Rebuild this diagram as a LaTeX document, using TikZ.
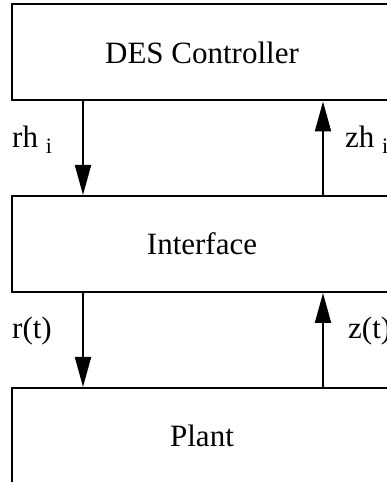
\documentclass[tikz,border=0pt]{standalone}
\usepackage{fontspec}
\setmainfont{Liberation Serif}
\usetikzlibrary{arrows.meta}
\begin{document}
\begin{tikzpicture}[x=1pt,y=1pt,
  blockbox/.style={draw,line width=2pt,minimum width=380pt,minimum height=96pt,inner sep=0pt,font=\fontsize{31}{31}\selectfont},
  sig/.style={line width=2pt,-{Triangle[length=30pt,width=16pt]}},
  lbl/.style={font=\fontsize{31}{31}\selectfont,inner sep=0pt,anchor=base west}]
\useasboundingbox (0,0) rectangle (387,482);
\clip (0,0) rectangle (387,482);
\node[blockbox] (des) at (202,429.5) {DES Controller};
\node[blockbox] (intf) at (202,238) {Interface};
\node[blockbox] (plant) at (202,46) {Plant};
\coordinate (a1) at (83,0);
\coordinate (a2) at (323,0);
\draw[sig] (des.south -| a1) -- (intf.north -| a1);
\draw[sig] (intf.north -| a2) -- (des.south -| a2);
\draw[sig] (intf.south -| a1) -- (plant.north -| a1);
\draw[sig] (plant.north -| a2) -- (intf.south -| a2);
\node[lbl] (l1) at (12,334) {rh \raisebox{-6pt}{\fontsize{22}{22}\selectfont i}};
\node[lbl] (l2) at (345,334) {zh \raisebox{-6pt}{\fontsize{22}{22}\selectfont i}};
\node[lbl] (l3) at (12,143) {r(t)};
\node[lbl] (l4) at (348,143) {z(t)};
\end{tikzpicture}
\end{document}
